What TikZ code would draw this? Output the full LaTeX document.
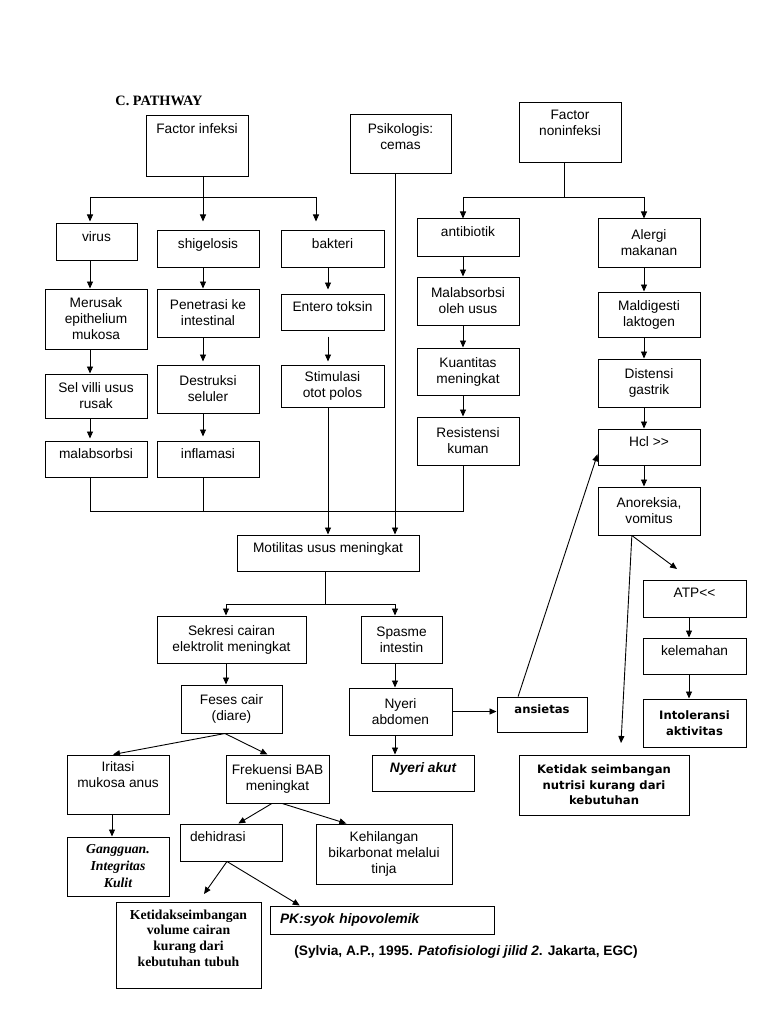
\documentclass[tikz,border=0pt]{standalone}
\usepackage{fontspec}
\setmainfont{Liberation Sans}
\newfontfamily\timesfont{Liberation Serif}
\newfontfamily\dejafont{DejaVu Sans}
\usetikzlibrary{arrows.meta}

\tikzset{
	box/.style={draw, line width=1pt, align=center, inner sep=0pt},
	one/.style={text height=10pt, text depth=12pt},
	bbox/.style={box, font=\dejafont\bfseries\fontsize{11.6}{15.5}\selectfont},
	lbox/.style={box, align=left, inner xsep=10pt, text width=#1},
	bi/.style={font=\fontsize{13.7}{16}\selectfont\bfseries\itshape},
}

\begin{document}
\begin{tikzpicture}[x=1pt,y=-1pt,line width=0.9pt,>={Triangle[length=7pt,width=6pt]},
	every node/.style={font=\fontsize{13.7}{16}\selectfont}]
	\useasboundingbox (0,0) rectangle (768,1024);
	\node (title) at (159,101) {\timesfont\bfseries\fontsize{14.3}{16}\selectfont C. PATHWAY};
	% nodes: infeksi
	\node[box,one,minimum width=102pt,minimum height=61pt,text depth=36pt] (inf) at (197,146.5) {Factor infeksi};
	\node[box,one,minimum width=81pt,minimum height=36pt] (vir) at (96.5,242) {virus};
	\node[box,one,minimum width=102pt,minimum height=36pt] (shi) at (208,249) {shigelosis};
	\node[box,one,minimum width=103pt,minimum height=36pt] (bak) at (332.5,249) {bakteri};
	\node[box,minimum width=102pt,minimum height=60pt] (mer) at (96,319) {Merusak\\epithelium\\mukosa};
	\node[box,minimum width=102pt,minimum height=48pt] (pen) at (208,313) {Penetrasi ke\\intestinal};
	\node[box,one,minimum width=103pt,minimum height=36pt] (ent) at (332.5,312) {Entero toksin};
	\node[box,minimum width=102pt,minimum height=44pt] (sel) at (96,396) {Sel villi usus\\rusak};
	\node[box,minimum width=102pt,minimum height=48pt] (des) at (208,389) {Destruksi\\seluler};
	\node[box,minimum width=103pt,minimum height=42pt] (sti) at (332.5,386) {Stimulasi\\otot polos};
	\node[box,one,minimum width=102pt,minimum height=36pt] (mab) at (96,459) {malabsorbsi};
	\node[box,one,minimum width=102pt,minimum height=36pt] (inl) at (208,459) {inflamasi};
	% nodes: psikologis, noninfeksi
	\node[box,minimum width=101pt,minimum height=59pt,text depth=16pt] (psi) at (400.5,144.5) {Psikologis:\\cemas};
	\node[box,minimum width=102pt,minimum height=60pt,text depth=20pt] (ninf) at (570,133) {Factor\\noninfeksi};
	\node[box,one,minimum width=102pt,minimum height=37pt] (ant) at (468,237.5) {antibiotik};
	\node[box,minimum width=102pt,minimum height=48pt] (mou) at (468,301) {Malabsorbsi\\oleh usus};
	\node[box,minimum width=102pt,minimum height=47pt] (kua) at (468,371.5) {Kuantitas\\meningkat};
	\node[box,minimum width=102pt,minimum height=48pt] (res) at (468,441) {Resistensi\\kuman};
	\node[box,minimum width=102pt,minimum height=48pt] (ale) at (649,243) {Alergi\\makanan};
	\node[box,minimum width=102pt,minimum height=45pt] (mal) at (649,314.5) {Maldigesti\\laktogen};
	\node[box,minimum width=102pt,minimum height=48pt] (dis) at (649,383) {Distensi\\gastrik};
	\node[box,one,minimum width=102pt,minimum height=36pt] (hcl) at (649,447) {Hcl >\kern0pt>};
	\node[box,minimum width=102pt,minimum height=48pt] (ano) at (649,511) {Anoreksia,\\vomitus};
	% nodes: motilitas and below
	\node[box,one,minimum width=182pt,minimum height=36pt] (mot) at (328,553) {Motilitas usus meningkat};
	\node[box,minimum width=149pt,minimum height=47pt] (sek) at (231.5,639.5) {Sekresi cairan\\elektrolit meningkat};
	\node[box,minimum width=81pt,minimum height=47pt] (spa) at (401.5,639.5) {Spasme\\intestin};
	\node[box,minimum width=101pt,minimum height=48pt] (fes) at (231.5,709) {Feses cair\\(diare)};
	\node[box,minimum width=103pt,minimum height=47pt] (nab) at (400.5,711.5) {Nyeri\\abdomen};
	\node[bbox,one,minimum width=90pt,minimum height=35pt] (ans) at (542,714.5) {ansietas};
	\node[box,one,minimum width=103pt,minimum height=37pt] (atp) at (694.5,598.5) {ATP<\kern0pt<};
	\node[box,one,minimum width=103pt,minimum height=36pt] (lem) at (694.5,656) {kelemahan};
	\node[bbox,minimum width=103pt,minimum height=48pt] (int) at (694.5,723) {Intoleransi\\aktivitas};
	\node[bbox,minimum width=170pt,minimum height=60pt] (nut) at (604,785) {Ketidak seimbangan\\nutrisi kurang dari\\kebutuhan};
	\node[box,minimum width=102pt,minimum height=59pt,text depth=19pt] (iri) at (118,784.5) {Iritasi\\mukosa anus};
	\node[box,minimum width=103pt,minimum height=48pt] (fre) at (277.5,779) {Frekuensi BAB\\meningkat};
	\node[box,bi,one,minimum width=102pt,minimum height=36pt] (nak) at (423,773) {Nyeri akut};
	\node[box,font=\timesfont\bfseries\itshape\fontsize{13.7}{17}\selectfont,minimum width=102pt,minimum height=59pt] (gan) at (118,866.5) {Gangguan.\\Integritas\\Kulit};
	\node[lbox=82pt,one,minimum width=102pt,minimum height=37pt] (deh) at (231,842.5) {dehidrasi};
	\node[box,minimum width=136pt,minimum height=60pt] (keh) at (384,854) {Kehilangan\\bikarbonat melalui\\tinja};
	\node[box,font=\timesfont\bfseries\fontsize{13.7}{15.7}\selectfont,minimum width=145pt,minimum height=86pt,text depth=14pt] (vol) at (188.5,945) {Ketidakseimbangan\\volume cairan\\kurang dari\\kebutuhan tubuh};
	\node[lbox=204pt,bi,text height=10pt,text depth=3pt,minimum height=28pt] (pk) at (382,920) {PK:syok hipovolemik};
	\node (ref) at (466,952) {\bfseries (Sylvia, A.P., 1995. \textit{Patofisiologi jilid 2}. Jakarta, EGC)};
	%
	\coordinate (i1) at (90,197);
	\coordinate (i2) at (203,197);
	\coordinate (i3) at (316,197);
	\coordinate (s1) at (328,511);
	\coordinate (u1) at (90,511);
	\coordinate (u2) at (463,511);
	\coordinate (n1) at (463,197);
	\coordinate (n2) at (564,197);
	\coordinate (n3) at (644,197);
	\coordinate (m1) at (226,604);
	\coordinate (m2) at (325,604);
	\coordinate (m3) at (395,604);
	\coordinate (t1) at (677,569);
	\coordinate (t2) at (621,743);
	\coordinate (t3) at (204,894);
	% bus lines
	\draw (i2 |- inf.south) -- (i2) (i1) -- (i3);
	\draw (i1 |- mab.south) -- (u1) -- (u2) -- (u2 |- res.south);
	\draw (i2 |- inl.south) -- (i2 |- u1);
	\draw (n2 |- ninf.south) -- (n2) (n1) -- (n3);
	\draw (m2 |- mot.south) -- (m2) (m1) -- (m3);
	%
	\path[->]
	% infeksi arrows
	(i1) edge[shorten >=2pt] (i1 |- vir.north)
	(i2) edge[shorten >=9pt] (i2 |- shi.north)
	(i3) edge[shorten >=9pt] (i3 |- bak.north)
	(i1 |- vir.south) edge (i1 |- mer.north)
	(i1 |- mer.south) edge (i1 |- sel.north)
	(i1 |- sel.south) edge[shorten >=2pt] (i1 |- mab.north)
	(i2 |- shi.south) edge (i2 |- pen.north)
	(i2 |- pen.south) edge[shorten >=3pt] (i2 |- des.north)
	(i2 |- des.south) edge[shorten >=4pt] (i2 |- inl.north)
	(s1 |- bak.south) edge[shorten >=4pt] (s1 |- ent.north)
	(s1 |- ent.south) edge[shorten <=6pt,shorten >=3pt] (s1 |- sti.north)
	(s1 |- sti.south) edge (s1 |- mot.north)
	(m3 |- psi.south) edge (m3 |- mot.north)
	% noninfeksi arrows
	(n1) edge (n1 |- ant.north)
	(n3) edge (n3 |- ale.north)
	(n1 |- ant.south) edge (n1 |- mou.north)
	(n1 |- mou.south) edge (n1 |- kua.north)
	(n1 |- kua.south) edge (n1 |- res.north)
	(n3 |- ale.south) edge (n3 |- mal.north)
	(n3 |- mal.south) edge (n3 |- dis.north)
	(n3 |- dis.south) edge (n3 |- hcl.north)
	(n3 |- hcl.south) edge (n3 |- ano.north)
	(ans.143) edge (hcl.188)
	(ano.235) edge (t1)
	(ano.235) edge (t2)
	([xshift=-5.5pt]atp.south) edge ([xshift=-5.5pt]lem.north)
	([xshift=-5.5pt]lem.south) edge ([xshift=-5.5pt]int.north)
	% motilitas arrows
	(m1) edge (m1 |- sek.north)
	(m3) edge (m3 |- spa.north)
	(m1 |- sek.south) edge (m1 |- fes.north)
	(m3 |- spa.south) edge (m3 |- nab.north)
	(m3 |- nab.south) edge (m3 |- nak.north)
	(nab.east) edge (nab.east -| ans.west)
	(fes.255) edge ([xshift=-5pt]iri.north)
	(fes.255) edge ([xshift=-10pt]fre.north)
	([xshift=-6pt]iri.south) edge ([xshift=-6pt]gan.north)
	(fre.257) edge (deh.69)
	(fre.281) edge (keh.141)
	(deh.258) edge (t3)
	(deh.258) edge (pk.170);
\end{tikzpicture}
\end{document}
